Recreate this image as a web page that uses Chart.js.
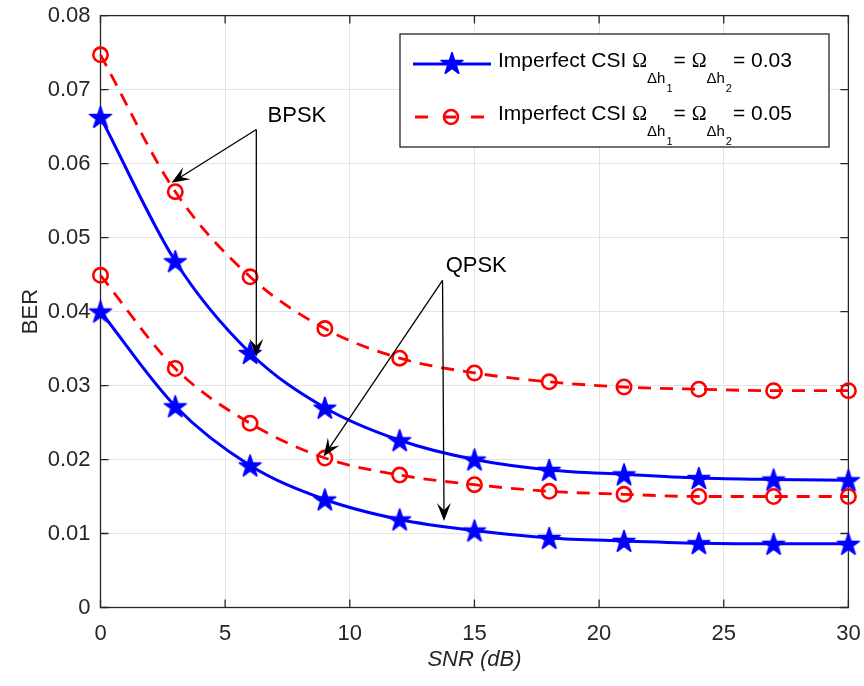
<!DOCTYPE html>
<html>
<head>
<meta charset="utf-8">
<script src="https://cdn.jsdelivr.net/npm/chart.js@4.4.1/dist/chart.umd.min.js"></script>
<style>
  body { margin: 0; background: #fff; }
</style>
</head>
<body>
<canvas id="grafico" width="864" height="686"></canvas>
<script>
// dados
const snr = [0, 3, 6, 9, 12, 15, 18, 21, 24, 27, 30];
const bpsk003 = [0.0663, 0.0468, 0.0344, 0.0270, 0.0226, 0.0200, 0.0186, 0.0180, 0.0175, 0.0173, 0.0172];
const bpsk005 = [0.0747, 0.0562, 0.0447, 0.0377, 0.0337, 0.0317, 0.0305, 0.0298, 0.0295, 0.0293, 0.0293];
const qpsk003 = [0.0400, 0.0272, 0.0192, 0.0146, 0.0119, 0.0104, 0.0094, 0.0090, 0.0087, 0.0086, 0.0086];
const qpsk005 = [0.0449, 0.0323, 0.0249, 0.0202, 0.0179, 0.0166, 0.0157, 0.0153, 0.0150, 0.0150, 0.0150];
const xTicks = [0, 5, 10, 15, 20, 25, 30];
const yTicks = [0, 0.01, 0.02, 0.03, 0.04, 0.05, 0.06, 0.07, 0.08];

// anotacoes (coordenadas em dados)
const notes = [
  { text: 'BPSK', at: [7.88, 0.0664], from: [6.25, 0.0646], to: [[2.85, 0.0574], [6.25, 0.0339]] },
  { text: 'QPSK', at: [15.07, 0.0462], from: [13.72, 0.0442], to: [[8.95, 0.0204], [13.78, 0.0117]] }
];

const fonte = '"Liberation Sans", Arial, sans-serif';
const axisColor = '#262626';

// marcador pentagrama
function estrela(size, color) {
  const c = document.createElement('canvas');
  c.width = c.height = size;
  const g = c.getContext('2d');
  const cx = size / 2, cy = size / 2 + 1, R = 11.5, r = R * 0.382;
  g.beginPath();
  for (let i = 0; i < 10; i++) {
    const a = -Math.PI / 2 + i * Math.PI / 5;
    const rad = i % 2 ? r : R;
    const px = cx + rad * Math.cos(a), py = cy + rad * Math.sin(a);
    if (i === 0) g.moveTo(px, py); else g.lineTo(px, py);
  }
  g.closePath();
  g.fillStyle = color;
  g.fill();
  g.strokeStyle = color;
  g.lineWidth = 1.6;
  g.lineJoin = 'round';
  g.stroke();
  return c;
}
const star = estrela(28, '#0000ff');

function serie(data, blue) {
  return {
    data: snr.map((x, i) => ({ x: x, y: data[i] })),
    borderColor: blue ? '#0000ff' : '#ff0000',
    borderWidth: blue ? 3 : 2.8,
    borderDash: blue ? [] : [13, 9],
    pointStyle: blue ? star : 'circle',
    pointRadius: blue ? 13 : 7.2,
    pointBorderWidth: 2.6,
    pointBorderColor: blue ? '#0000ff' : '#ff0000',
    pointBackgroundColor: 'rgba(0,0,0,0)',
    cubicInterpolationMode: 'monotone',
    fill: false,
    clip: false
  };
}

// texto com subscritos
function richText(g, x, y, parts) {
  let cx = x;
  parts.forEach(p => {
    g.font = p.f;
    g.fillText(p.t, cx, y + (p.dy || 0));
    cx += g.measureText(p.t).width + (p.sp || 0);
  });
}
function legendParts(val) {
  const reg = '21px ' + fonte, om = '20px "Liberation Serif", serif';
  const sub = '15px ' + fonte, sub2 = '11px ' + fonte;
  return [
    { t: 'Imperfect CSI ', f: reg },
    { t: 'Ω', f: om },
    { t: 'Δh', f: sub, dy: 16, sp: 1 },
    { t: '1', f: sub2, dy: 25, sp: 1 },
    { t: '= ', f: reg },
    { t: 'Ω', f: om },
    { t: 'Δh', f: sub, dy: 16, sp: 1 },
    { t: '2', f: sub2, dy: 25, sp: 1 },
    { t: '= ' + val, f: reg }
  ];
}

function seta(g, x0, y0, x1, y1) {
  const a = Math.atan2(y1 - y0, x1 - x0);
  const L = 18, W = 7;
  const ux = Math.cos(a), uy = Math.sin(a), nx = -uy, ny = ux;
  g.beginPath();
  g.moveTo(x0, y0);
  g.lineTo(x1 - ux * 8, y1 - uy * 8);
  g.stroke();
  g.beginPath();
  g.moveTo(x1, y1);
  g.lineTo(x1 - ux * L + nx * W, y1 - uy * L + ny * W);
  g.lineTo(x1 - ux * L * 0.6, y1 - uy * L * 0.6);
  g.lineTo(x1 - ux * L - nx * W, y1 - uy * L - ny * W);
  g.closePath();
  g.fill();
}

const moldura = {
  id: 'moldura',
  beforeDatasetsDraw(chart) {
    const g = chart.ctx, a = chart.chartArea;
    const xs = chart.scales.x, ys = chart.scales.y;
    g.save();
    g.strokeStyle = axisColor;
    g.lineWidth = 1.3;
    g.strokeRect(a.left, a.top, a.right - a.left, a.bottom - a.top);
    g.beginPath();
    xTicks.forEach(v => {
      const px = xs.getPixelForValue(v);
      g.moveTo(px, a.bottom); g.lineTo(px, a.bottom - 8);
      g.moveTo(px, a.top); g.lineTo(px, a.top + 8);
    });
    yTicks.forEach(v => {
      const py = ys.getPixelForValue(v);
      g.moveTo(a.left, py); g.lineTo(a.left + 8, py);
      g.moveTo(a.right, py); g.lineTo(a.right - 8, py);
    });
    g.stroke();
    g.restore();
  },
  afterDraw(chart) {
    const g = chart.ctx;
    const xs = chart.scales.x, ys = chart.scales.y;
    g.save();
    // anotacoes
    g.strokeStyle = '#000';
    g.fillStyle = '#000';
    g.lineWidth = 1.3;
    g.font = '22px ' + fonte;
    g.textAlign = 'center';
    g.textBaseline = 'middle';
    notes.forEach(n => {
      g.fillText(n.text, xs.getPixelForValue(n.at[0]), ys.getPixelForValue(n.at[1]));
      const x0 = xs.getPixelForValue(n.from[0]), y0 = ys.getPixelForValue(n.from[1]);
      n.to.forEach(t => seta(g, x0, y0, xs.getPixelForValue(t[0]), ys.getPixelForValue(t[1])));
    });
    // legenda
    const lx = 400, ly = 34, lw = 429, lh = 113;
    g.fillStyle = '#fff';
    g.fillRect(lx, ly, lw, lh);
    g.strokeStyle = axisColor;
    g.lineWidth = 1.3;
    g.strokeRect(lx, ly, lw, lh);
    const rows = [
      { y: 64, blue: true, val: '0.03' },
      { y: 117, blue: false, val: '0.05' }
    ];
    rows.forEach(r => {
      g.save();
      g.lineWidth = r.blue ? 3 : 2.8;
      g.strokeStyle = r.blue ? '#0000ff' : '#ff0000';
      g.beginPath();
      if (r.blue) {
        g.moveTo(413, r.y); g.lineTo(491, r.y);
      } else {
        g.setLineDash([13, 15]);
        g.moveTo(415, r.y); g.lineTo(485, r.y);
      }
      g.stroke();
      g.setLineDash([]);
      if (r.blue) {
        g.drawImage(star, 452 - 14, r.y - 15);
      } else {
        g.lineWidth = 2.6;
        g.beginPath();
        g.arc(451, r.y, 7, 0, Math.PI * 2);
        g.stroke();
      }
      g.restore();
      g.fillStyle = '#000';
      g.textAlign = 'left';
      g.textBaseline = 'alphabetic';
      richText(g, 498, r.y + 3, legendParts(r.val));
    });
    g.restore();
  }
};

const ctx = document.getElementById('grafico').getContext('2d');
const grafico = new Chart(ctx, {
  type: 'line',
  data: {
    datasets: [
      serie(bpsk003, true),
      serie(bpsk005, false),
      serie(qpsk003, true),
      serie(qpsk005, false)
    ]
  },
  options: {
    responsive: false,
    animation: false,
    layout: { padding: { top: 15, right: 12, left: 0, bottom: 0 } },
    plugins: { legend: { display: false }, tooltip: { enabled: false } },
    scales: {
      x: {
        type: 'linear', min: 0, max: 30,
        afterBuildTicks: s => { s.ticks = xTicks.map(v => ({ value: v })); },
        afterFit: s => { s.height = 78.5; s.paddingLeft = 0; s.paddingRight = 0; },
        grid: { color: '#e3e3e3', lineWidth: 1, drawTicks: false },
        border: { display: false },
        ticks: { color: axisColor, font: { family: fonte, size: 22 }, padding: 13, maxRotation: 0 },
        title: { display: true, text: 'SNR (dB)', color: axisColor,
          font: { family: fonte, size: 22, style: 'italic' }, padding: { top: 4, bottom: 13 } }
      },
      y: {
        min: 0, max: 0.08,
        afterBuildTicks: s => { s.ticks = yTicks.map(v => ({ value: v })); },
        afterFit: s => { s.width = 100.5; s.paddingTop = 0; s.paddingBottom = 0; },
        grid: { color: '#e3e3e3', lineWidth: 1, drawTicks: false },
        border: { display: false },
        ticks: { color: axisColor, font: { family: fonte, size: 22 }, padding: 10,
          callback: v => v === 0 ? '0' : v.toFixed(2) },
        title: { display: true, text: 'BER', color: axisColor,
          font: { family: fonte, size: 22 }, padding: { top: 18, bottom: 0 } }
      }
    }
  },
  plugins: [moldura]
});
</script>
</body>
</html>
